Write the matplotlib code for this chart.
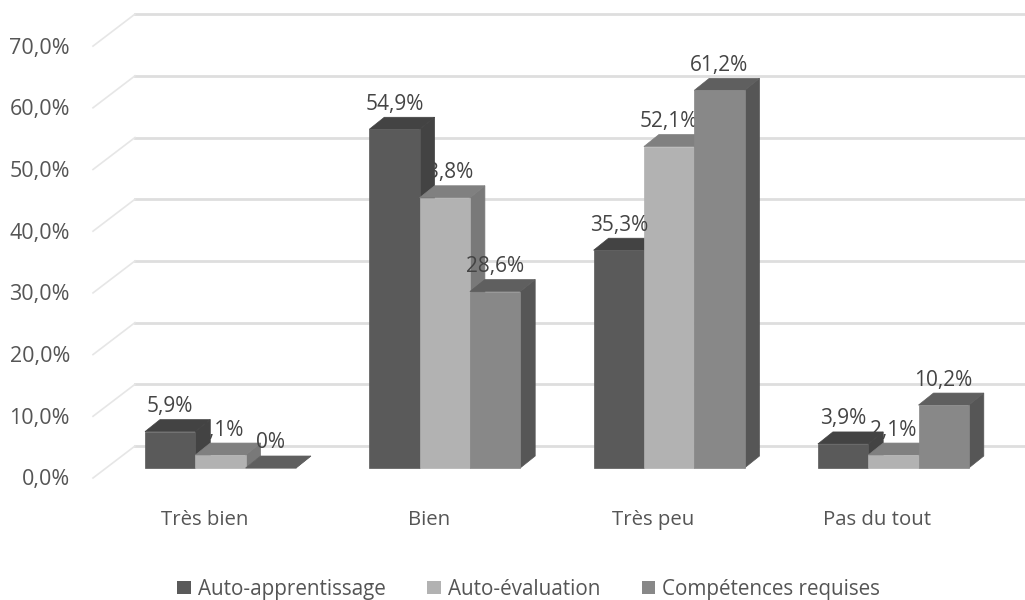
import matplotlib.pyplot as plt
from matplotlib.patches import Polygon, Rectangle

categories = ['Très bien', 'Bien', 'Très peu', 'Pas du tout']
series_names = ['Auto-apprentissage', 'Auto-évaluation', 'Compétences requises']
auto_apprentissage = [5.9, 54.9, 35.3, 3.9]
auto_evaluation = [2.1, 43.8, 52.1, 2.1]
competences = [0.0, 28.6, 61.2, 10.2]
labels_1 = ['5,9%', '54,9%', '35,3%', '3,9%']
labels_2 = ['2,1%', '43,8%', '52,1%', '2,1%']
labels_3 = ['0%', '28,6%', '61,2%', '10,2%']
y_ticks = [0, 10, 20, 30, 40, 50, 60, 70]
y_tick_labels = ['0,0%', '10,0%', '20,0%', '30,0%', '40,0%', '50,0%', '60,0%', '70,0%']

TEXT = '#555555'
LABEL_TEXT = '#444444'
GRID = '#dedede'
# (front, top, side) shade of each series
SHADES = [('#5a5a5a', '#434343', '#434343'),
          ('#b2b2b2', '#808080', '#797979'),
          ('#888888', '#5f5f5f', '#565656')]

# one x unit is one category, one y unit is one percent
PX_X = 224.3
PX_Y = 6.17
BAR_W = 50.3 / PX_X
DX = 15 / PX_X
DY = 12 / PX_Y
GRID_DX = 42 / PX_X


def draw_bar(ax, left, value, shades, z):
    front, top, side = shades
    right = left + BAR_W
    ax.add_patch(Polygon([(right, 0), (right + DX, DY), (right + DX, value + DY), (right, value)],
                         fc=side, ec=side, lw=0.5, zorder=z))
    ax.add_patch(Polygon([(left, value), (left + DX, value + DY), (right + DX, value + DY), (right, value)],
                         fc=top, ec=top, lw=0.5, zorder=z))
    ax.add_patch(Rectangle((left, 0), BAR_W, value, fc=front, ec=front, lw=0.5, zorder=z))


def main():
    plt.rcParams['font.family'] = ['Open Sans', 'DejaVu Sans']
    fig = plt.figure(figsize=(10.25, 6), dpi=100)
    ax = fig.add_axes([0, 0, 1, 1])
    ax.set_xlim(-145 / PX_X, 880 / PX_X)
    ax.set_ylim(-132 / PX_Y, 468 / PX_Y)
    ax.axis('off')

    # back wall gridlines and their slanted part on the side wall
    x_wall = -10 / PX_X
    for tick, tick_label in zip(y_ticks, y_tick_labels):
        y_back = tick + 22 / PX_Y
        ax.plot([x_wall, 880 / PX_X], [y_back, y_back], color=GRID, lw=2, zorder=1)
        ax.plot([x_wall - GRID_DX, x_wall], [y_back - 32 / PX_Y, y_back], color='#e6e6e6', lw=1.2, zorder=1)
        ax.text(-75 / PX_X, tick - 12 / PX_Y, tick_label, ha='right', va='center',
                color=TEXT, fontsize=15.5)

    # the second series labels sit behind the first series bars
    values = [auto_apprentissage, auto_evaluation, competences]
    labels = [labels_1, labels_2, labels_3]
    bar_z = [3, 4, 5]
    label_z = [6, 2, 6]
    for s in range(3):
        for i in range(len(categories)):
            left = i + s * BAR_W
            draw_bar(ax, left, values[s][i], SHADES[s], bar_z[s])
            ax.annotate(labels[s][i], (left + BAR_W / 2, values[s][i]), xytext=(0, 18),
                        textcoords='offset points', ha='center', va='center',
                        color=LABEL_TEXT, fontsize=15, zorder=label_z[s])

    for i, name in enumerate(categories):
        ax.text(i + 1.5 * BAR_W - 16 / PX_X, -52 / PX_Y, name, ha='center', va='center',
                color=TEXT, fontsize=14.7)

    handles = [Rectangle((0, 0), 1, 1, fc=SHADES[s][0]) for s in range(3)]
    fig.legend(handles, series_names, loc='center', bbox_to_anchor=(0.516, 0.018), ncols=3,
               frameon=False, fontsize=14.9, labelcolor=TEXT, handlelength=0.65, handleheight=0.65,
               handletextpad=0.35, columnspacing=2.0, borderpad=0)

    fig.savefig('out.png', dpi=100)


if __name__ == '__main__':
    main()
